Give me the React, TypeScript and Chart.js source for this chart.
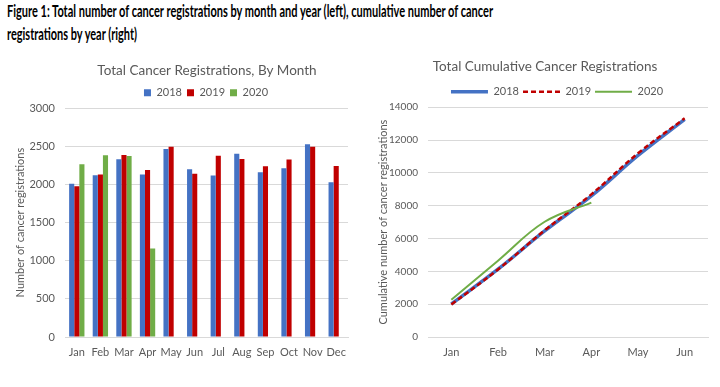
import React, { useEffect, useLayoutEffect, useRef } from "react";
import { Chart, registerables } from "chart.js";

Chart.register(...registerables);

const FONT = "Lato, 'Open Sans', sans-serif";
const TEXT = "#595959";
const GRID = "#d9d9d9";
const BLUE = "#4472C4";
const RED = "#C00000";
const GREEN = "#70AD47";

const headingLine1 =
  "Figure 1: Total number of cancer registrations by month and year (left), cumulative number of cancer";
const headingLine2 = "registrations by year (right)";

const months = ["Jan", "Feb", "Mar", "Apr", "May", "Jun", "Jul", "Aug", "Sep", "Oct", "Nov", "Dec"];
const reg2018 = [2009, 2122, 2330, 2130, 2465, 2200, 2117, 2404, 2161, 2213, 2526, 2030];
const reg2019 = [1978, 2130, 2387, 2191, 2496, 2139, 2378, 2335, 2239, 2326, 2496, 2243];
const reg2020 = [2265, 2383, 2374, 1160, null, null, null, null, null, null, null, null];

const cumMonths = ["Jan", "Feb", "Mar", "Apr", "May", "Jun"];
const cum2018 = [2010, 4130, 6460, 8590, 11060, 13260];
const cum2019 = [1980, 4110, 6500, 8690, 11190, 13320];
const cum2020 = [2270, 4650, 7020, 8190];

const seriesLabels = ["2018", "2019", "2020"];

// shifts the title / legend boxes horizontally after layout
const boxShift = {
  id: "boxShift",
  afterLayout(chart: any, _args: any, opts: any) {
    const t = chart.titleBlock;
    if (t && opts.title) {
      t.left += opts.title;
      t.right += opts.title;
    }
    const l = chart.legend;
    if (l && opts.legend) {
      l.left += opts.legend;
      l.right += opts.legend;
    }
  },
};

function FitLine({ text, width, top }: { text: string; width: number; top: number }) {
  const ref = useRef<HTMLSpanElement>(null);
  useLayoutEffect(() => {
    const el = ref.current;
    if (!el) return;
    el.style.transform = "none";
    const w = el.getBoundingClientRect().width;
    if (w > 0) el.style.transform = `scaleX(${width / w})`;
  }, [text, width]);
  return (
    <span
      ref={ref}
      style={{
        position: "absolute",
        left: 7,
        top,
        whiteSpace: "nowrap",
        display: "inline-block",
        transformOrigin: "left top",
        fontFamily: FONT,
        fontWeight: 700,
        fontSize: 17,
        lineHeight: "20px",
        color: "#000",
      }}
    >
      {text}
    </span>
  );
}

const plainTick = (v: any) => String(v);

function BarChart() {
  const ref = useRef<HTMLCanvasElement>(null);
  useEffect(() => {
    if (!ref.current) return;
    const chart = new Chart(ref.current, {
      type: "bar",
      data: {
        labels: months,
        datasets: [
          { label: seriesLabels[0], data: reg2018, backgroundColor: BLUE },
          { label: seriesLabels[1], data: reg2019, backgroundColor: RED },
          { label: seriesLabels[2], data: reg2020 as any, backgroundColor: GREEN },
        ],
      },
      plugins: [boxShift],
      options: {
        responsive: false,
        animation: false,
        events: [],
        layout: { padding: { left: 0, right: 12, top: 0, bottom: 0 } },
        datasets: { bar: { barPercentage: 1, categoryPercentage: 0.65 } } as any,
        plugins: {
          boxShift: { title: 33, legend: 32 },
          title: {
            display: true,
            text: "Total Cancer Registrations, By Month",
            color: TEXT,
            font: { family: FONT, size: 13.5, weight: "normal" as any },
            padding: { top: 13, bottom: 3 },
          },
          legend: {
            display: true,
            labels: {
              color: TEXT,
              font: { family: FONT, size: 11 },
              boxWidth: 7,
              boxHeight: 7,
              padding: 5,
            },
          },
          tooltip: { enabled: false },
        } as any,
        scales: {
          x: {
            grid: { display: false, drawTicks: false },
            border: { display: true, color: GRID, width: 1 },
            ticks: {
              color: TEXT,
              font: { family: FONT, size: 11 },
              padding: 9,
              maxRotation: 0,
              minRotation: 0,
              autoSkip: false,
            },
            afterFit: (s: any) => {
              s.height = 50;
            },
          },
          y: {
            min: 0,
            max: 3000,
            ticks: {
              stepSize: 500,
              color: TEXT,
              font: { family: FONT, size: 11 },
              padding: 10,
              callback: plainTick,
            },
            grid: { color: GRID, drawTicks: false },
            border: { display: false },
            title: {
              display: true,
              text: "Number of cancer registrations",
              color: TEXT,
              font: { family: FONT, size: 11 },
              padding: { top: 14, bottom: 0 },
            },
            afterFit: (s: any) => {
              s.width = 65;
            },
          },
        },
      },
    });
    return () => chart.destroy();
  }, []);
  return (
    <canvas
      ref={ref}
      width={360}
      height={337}
      style={{ position: "absolute", left: 0, top: 50, width: 360, height: 337 }}
    />
  );
}

function LineChart() {
  const ref = useRef<HTMLCanvasElement>(null);
  useEffect(() => {
    if (!ref.current) return;
    const chart = new Chart(ref.current, {
      type: "line",
      data: {
        labels: cumMonths,
        datasets: [
          {
            label: seriesLabels[0],
            data: cum2018,
            borderColor: BLUE,
            backgroundColor: BLUE,
            borderWidth: 3.5,
            pointRadius: 0,
            tension: 0.4,
            order: 2,
          },
          {
            label: seriesLabels[1],
            data: cum2019,
            borderColor: RED,
            backgroundColor: RED,
            borderWidth: 2.5,
            borderDash: [5, 3],
            pointRadius: 0,
            tension: 0.4,
            order: 1,
          },
          {
            label: seriesLabels[2],
            data: cum2020,
            borderColor: GREEN,
            backgroundColor: GREEN,
            borderWidth: 2,
            pointRadius: 0,
            tension: 0.4,
            order: 0,
          },
        ],
      },
      plugins: [boxShift],
      options: {
        responsive: false,
        animation: false,
        events: [],
        layout: { padding: { left: 0, right: 12, top: 0, bottom: 0 } },
        plugins: {
          boxShift: { title: 11, legend: 23 },
          title: {
            display: true,
            text: "Total Cumulative Cancer Registrations",
            color: TEXT,
            font: { family: FONT, size: 13.5, weight: "normal" as any },
            padding: { top: 9, bottom: 7 },
          },
          legend: {
            display: true,
            labels: {
              color: TEXT,
              font: { family: FONT, size: 11 },
              usePointStyle: true,
              pointStyle: "line",
              pointStyleWidth: 37,
              boxHeight: 11,
              padding: 4,
              generateLabels: (c: any) =>
                c.data.datasets.map((ds: any, i: number) => ({
                  text: ds.label,
                  fillStyle: ds.borderColor,
                  strokeStyle: ds.borderColor,
                  lineWidth: ds.borderWidth,
                  lineDash: ds.borderDash || [],
                  lineCap: "butt",
                  pointStyle: "line",
                  fontColor: TEXT,
                  hidden: false,
                  datasetIndex: i,
                })),
            },
          },
          tooltip: { enabled: false },
        } as any,
        scales: {
          x: {
            offset: true,
            grid: { display: false, drawTicks: false },
            border: { display: true, color: GRID, width: 1 },
            ticks: {
              color: TEXT,
              font: { family: FONT, size: 11 },
              padding: 9,
              maxRotation: 0,
              minRotation: 0,
              autoSkip: false,
            },
            afterFit: (s: any) => {
              s.height = 50;
            },
          },
          y: {
            min: 0,
            max: 14000,
            ticks: {
              stepSize: 2000,
              color: TEXT,
              font: { family: FONT, size: 10 },
              padding: 10,
              callback: plainTick,
            },
            grid: { color: GRID, drawTicks: false },
            border: { display: false },
            title: {
              display: true,
              text: "Cumulative number of cancer registrations",
              color: TEXT,
              font: { family: FONT, size: 11 },
              padding: { top: 17, bottom: 0 },
            },
            afterFit: (s: any) => {
              s.width = 68;
            },
          },
        },
      },
    });
    return () => chart.destroy();
  }, []);
  return (
    <canvas
      ref={ref}
      width={360}
      height={337}
      style={{ position: "absolute", left: 360, top: 50, width: 360, height: 337 }}
    />
  );
}

export default function App() {
  useLayoutEffect(() => {
    document.body.style.margin = "0";
  }, []);
  return (
    <div style={{ position: "relative", width: 720, height: 387, background: "#fff", overflow: "hidden" }}>
      <FitLine text={headingLine1} width={486} top={0.5} />
      <FitLine text={headingLine2} width={130} top={23.5} />
      <BarChart />
      <LineChart />
    </div>
  );
}
